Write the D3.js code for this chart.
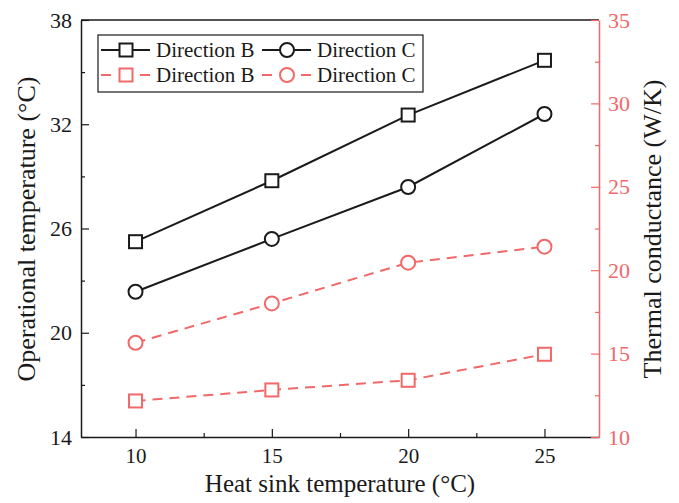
<!DOCTYPE html>
<html>
<head>
<meta charset="utf-8">
<script src="https://cdn.jsdelivr.net/npm/d3@7"></script>
<style>
  html, body { margin: 0; padding: 0; background: #fff; }
  svg { display: block; }
  svg text { font-family: "Liberation Serif", "Times New Roman", "DejaVu Serif", serif; }
</style>
</head>
<body>
<svg id="chart" width="679" height="503"></svg>
<script>
// Heat sink temperature (°C)
const heatSink = [10, 15, 20, 25];
// Operational temperature (°C), left axis
const tempB = [25.24, 28.75, 32.53, 35.68];
const tempC = [22.36, 25.40, 28.39, 32.59];
// Thermal conductance (W/K), right axis
const condB = [12.16, 12.82, 13.40, 14.96];
const condC = [15.65, 18.01, 20.45, 21.41];

const xTicks = [10, 15, 20, 25];
const leftTicks = [14, 20, 26, 32, 38];
const rightTicks = [10, 15, 20, 25, 30, 35];

const RED = "#f26868";
const BLACK = "#1a1a1a";

const svg = d3.select("#chart");
const m = { left: 81, right: 599, top: 20, bottom: 437 };

const x = d3.scaleLinear().domain([8, 27]).range([m.left, m.right]);
const yL = d3.scaleLinear().domain([14, 38]).range([m.bottom, m.top]);
const yR = d3.scaleLinear().domain([10, 35]).range([m.bottom, m.top]);

// Top frame line
svg.append("line").attr("x1", m.left).attr("x2", m.right).attr("y1", m.top).attr("y2", m.top)
  .attr("stroke", BLACK).attr("stroke-width", 1.5);

function styleAxis(g, color, size) {
  g.attr("font-family", null);
  g.selectAll("line, path").attr("stroke", color);
  g.select(".domain").attr("stroke-width", 1.5);
  g.selectAll(".tick line").attr("stroke-width", 1.2);
  g.selectAll("text").attr("font-size", size).attr("fill", color);
}

// Bottom axis, ticks pointing inward
svg.append("g").attr("transform", `translate(0,${m.bottom})`)
  .call(d3.axisBottom(x).tickValues(xTicks).tickSizeInner(-8).tickSizeOuter(0).tickPadding(11))
  .call(g => styleAxis(g, BLACK, 21));
svg.append("g").attr("transform", `translate(0,${m.bottom})`)
  .call(d3.axisBottom(x).tickValues([12.5, 17.5, 22.5]).tickSizeInner(-4).tickSizeOuter(0).tickFormat(""))
  .call(g => g.select(".domain").remove())
  .call(g => styleAxis(g, BLACK, 21));

// Left axis
svg.append("g").attr("transform", `translate(${m.left},0)`)
  .call(d3.axisLeft(yL).tickValues(leftTicks).tickSizeInner(-8).tickSizeOuter(0).tickPadding(9))
  .call(g => styleAxis(g, BLACK, 22));
svg.append("g").attr("transform", `translate(${m.left},0)`)
  .call(d3.axisLeft(yL).tickValues([17, 23, 29, 35]).tickSizeInner(-4).tickSizeOuter(0).tickFormat(""))
  .call(g => g.select(".domain").remove())
  .call(g => styleAxis(g, BLACK, 22));

// Right axis
svg.append("g").attr("transform", `translate(${m.right},0)`)
  .call(d3.axisRight(yR).tickValues(rightTicks).tickSizeInner(-8).tickSizeOuter(0).tickPadding(9))
  .call(g => styleAxis(g, RED, 22));
svg.append("g").attr("transform", `translate(${m.right},0)`)
  .call(d3.axisRight(yR).tickValues([12.5, 17.5, 22.5, 27.5, 32.5]).tickSizeInner(-4).tickSizeOuter(0).tickFormat(""))
  .call(g => g.select(".domain").remove())
  .call(g => styleAxis(g, RED, 22));

// Axis titles
svg.append("text").attr("x", 340).attr("y", 492)
  .attr("text-anchor", "middle").attr("font-size", 25).attr("fill", BLACK)
  .text("Heat sink temperature (°C)");
svg.append("text").attr("transform", `translate(35,229) rotate(-90)`)
  .attr("text-anchor", "middle").attr("font-size", 26).attr("fill", BLACK)
  .text("Operational temperature (°C)");
svg.append("text").attr("transform", `translate(661,229) rotate(-90)`)
  .attr("text-anchor", "middle").attr("font-size", 26).attr("fill", BLACK)
  .text("Thermal conductance (W/K)");

// Series
const series = [
  { vals: tempB, y: yL, color: BLACK, dash: null, shape: "square", label: "Direction B" },
  { vals: tempC, y: yL, color: BLACK, dash: null, shape: "circle", label: "Direction C" },
  { vals: condB, y: yR, color: RED, dash: "10,7", shape: "square", label: "Direction B" },
  { vals: condC, y: yR, color: RED, dash: "10,7", shape: "circle", label: "Direction C" }
];

function drawMarker(g, shape, cx, cy, color) {
  if (shape === "square") {
    g.append("rect").attr("x", cx - 6.5).attr("y", cy - 6.5).attr("width", 13).attr("height", 13)
      .attr("fill", "#fff").attr("stroke", color).attr("stroke-width", 2);
  } else {
    g.append("circle").attr("cx", cx).attr("cy", cy).attr("r", 7)
      .attr("fill", "#fff").attr("stroke", color).attr("stroke-width", 2);
  }
}

series.forEach(s => {
  const line = d3.line().x((d, i) => x(heatSink[i])).y(d => s.y(d));
  svg.append("path").datum(s.vals).attr("d", line).attr("fill", "none")
    .attr("stroke", s.color).attr("stroke-width", 2)
    .attr("stroke-dasharray", s.dash);
  const g = svg.append("g");
  s.vals.forEach((v, i) => drawMarker(g, s.shape, x(heatSink[i]), s.y(v), s.color));
});

// Legend
const leg = svg.append("g");
leg.append("rect").attr("x", 98).attr("y", 35).attr("width", 325).attr("height", 57)
  .attr("fill", "#fff").attr("stroke", BLACK).attr("stroke-width", 1.2);
const cols = [101, 262];
series.forEach((s, i) => {
  const lx = cols[i % 2];
  const ly = i < 2 ? 50 : 75;
  const lg = leg.append("g");
  if (s.dash) {
    lg.append("line").attr("x1", lx).attr("x2", lx + 10).attr("y1", ly).attr("y2", ly)
      .attr("stroke", s.color).attr("stroke-width", 2);
    lg.append("line").attr("x1", lx + 39).attr("x2", lx + 49).attr("y1", ly).attr("y2", ly)
      .attr("stroke", s.color).attr("stroke-width", 2);
  } else {
    lg.append("line").attr("x1", lx).attr("x2", lx + 49).attr("y1", ly).attr("y2", ly)
      .attr("stroke", s.color).attr("stroke-width", 2);
  }
  drawMarker(lg, s.shape, lx + 25, ly, s.color);
  lg.append("text").attr("x", lx + 55).attr("y", ly).attr("dy", "0.35em")
    .attr("font-size", 21).attr("fill", BLACK).text(s.label);
});
</script>
</body>
</html>
